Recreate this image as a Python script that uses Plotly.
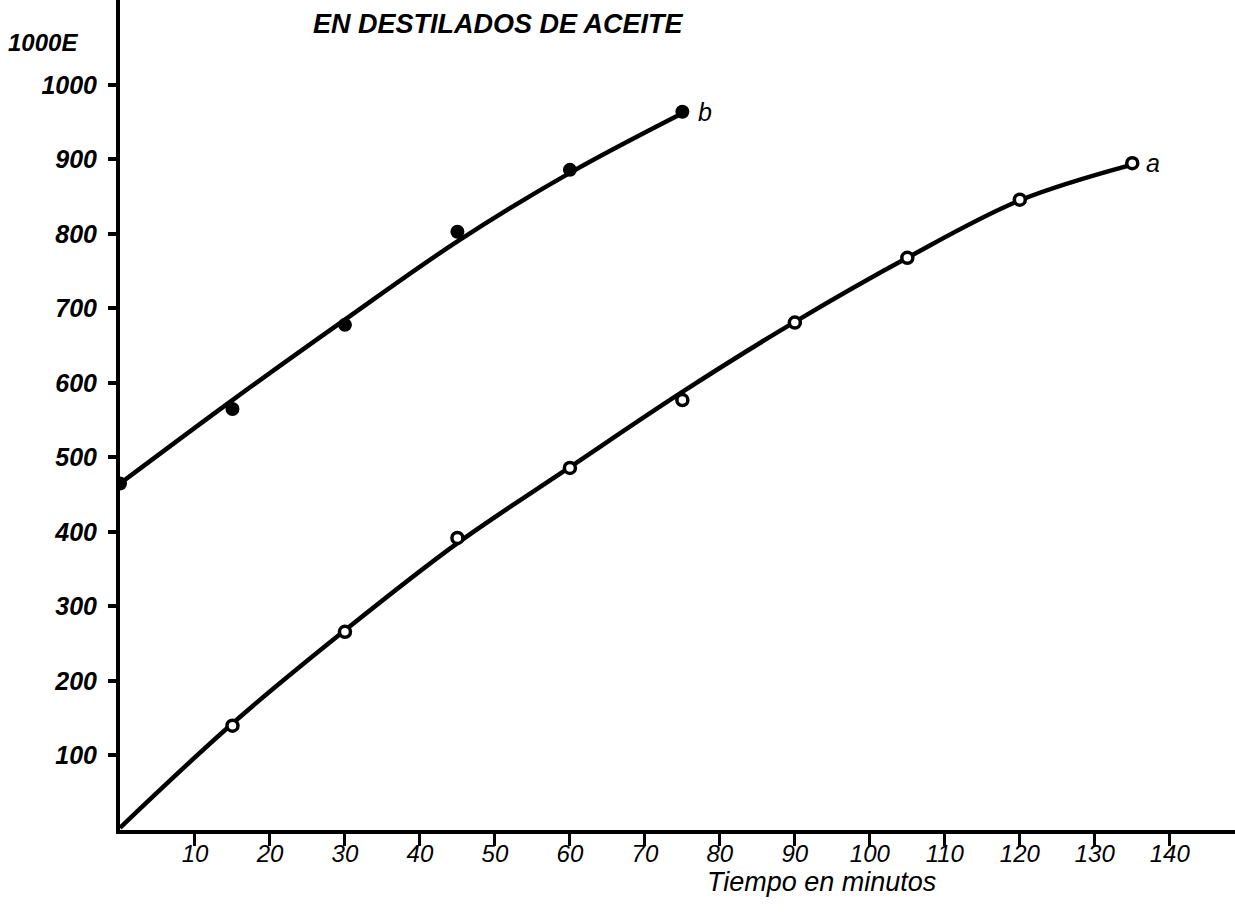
import plotly.graph_objects as go

# ---- data ----
minutes_a = [0, 15, 30, 45, 60, 75, 90, 105, 120, 135]
points_a = [0, 140, 266, 392, 486, 577, 681, 768, 846, 895]
curve_a = [3, 143, 268, 385, 487, 588, 682, 768, 845, 893]

minutes_b = [0, 15, 30, 45, 60, 75]
points_b = [465, 565, 678, 803, 886, 964]
curve_b = [465, 577, 685, 790, 882, 962]

x_ticks = [10, 20, 30, 40, 50, 60, 70, 80, 90, 100, 110, 120, 130, 140]
y_ticks = [100, 200, 300, 400, 500, 600, 700, 800, 900, 1000]

title_text = "EN DESTILADOS DE ACEITE"
y_title = "1000E"
x_title = "Tiempo en minutos"

INK = "#000000"
FONT = "Liberation Sans"

fig = go.Figure()

fig.add_trace(go.Scatter(x=minutes_a, y=curve_a, mode="lines",
                         line=dict(color=INK, width=4.5, shape="spline", smoothing=1.0),
                         hoverinfo="skip", showlegend=False))
fig.add_trace(go.Scatter(x=minutes_b, y=curve_b, mode="lines",
                         line=dict(color=INK, width=4.5, shape="spline", smoothing=1.0),
                         hoverinfo="skip", showlegend=False))
fig.add_trace(go.Scatter(x=minutes_a[1:], y=points_a[1:], mode="markers",
                         marker=dict(size=11, color="white", line=dict(color=INK, width=3.5)),
                         showlegend=False, name="a"))
fig.add_trace(go.Scatter(x=minutes_b, y=points_b, mode="markers",
                         marker=dict(size=14, color=INK),
                         showlegend=False, name="b"))

fig.update_xaxes(range=[0, 148.7], showline=True, linecolor=INK, linewidth=4,
                 showgrid=False, zeroline=False, tickvals=x_ticks,
                 ticktext=[str(v) for v in x_ticks],
                 ticks="outside", ticklen=12, tickwidth=3, tickcolor=INK,
                 ticklabelstandoff=-13,
                 tickfont=dict(family=FONT, size=24, color=INK, style="italic"))
fig.update_yaxes(range=[0, 1114], showline=True, linecolor=INK, linewidth=4,
                 showgrid=False, zeroline=False, tickvals=y_ticks,
                 ticktext=[str(v) for v in y_ticks],
                 ticks="outside", ticklen=8, tickwidth=4, tickcolor=INK,
                 ticklabelstandoff=6,
                 tickfont=dict(family=FONT, size=25, color=INK,
                               style="italic", weight="bold"))

annotations = [
    dict(x=50.5, y=1082, xref="x", yref="y", text=title_text, showarrow=False,
         font=dict(family=FONT, size=27, color=INK, style="italic", weight="bold")),
    dict(x=0, y=1057, xref="x", yref="y", text=y_title, showarrow=False,
         xanchor="right", xshift=-40,
         font=dict(family=FONT, size=24, color=INK, style="italic", weight="bold")),
    dict(x=93.5, y=-0.063, xref="x", yref="paper", text=x_title, showarrow=False,
         yanchor="middle",
         font=dict(family=FONT, size=27, color=INK, style="italic")),
    dict(x=minutes_b[-1], y=points_b[-1], xref="x", yref="y", text="b", showarrow=False,
         xanchor="left", xshift=14,
         font=dict(family=FONT, size=25, color=INK, style="italic")),
    dict(x=minutes_a[-1], y=points_a[-1], xref="x", yref="y", text="a", showarrow=False,
         xanchor="left", xshift=12,
         font=dict(family=FONT, size=25, color=INK, style="italic")),
]

fig.update_layout(width=1235, height=918, margin=dict(l=120, r=0, t=0, b=88),
                  plot_bgcolor="white", paper_bgcolor="white",
                  annotations=annotations)

fig.write_html("out.html")
